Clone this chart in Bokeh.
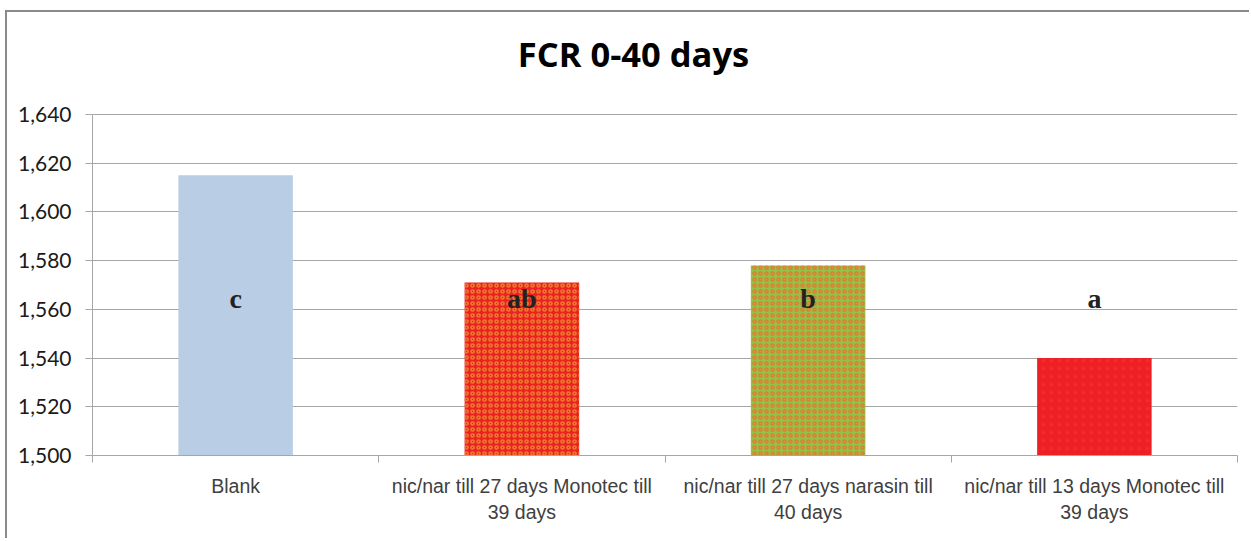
from bokeh.plotting import figure
from bokeh.models import FixedTicker, NumeralTickFormatter, Range1d, ColumnDataSource
from bokeh.core.properties import value
from bokeh.embed import file_html
from bokeh.resources import INLINE

# ---- data ----
categories = [
    "Blank",
    "nic/nar till 27 days Monotec till\n39 days",
    "nic/nar till 27 days narasin till\n40 days",
    "nic/nar till 13 days Monotec till\n39 days",
]
fcr = [1615, 1571, 1578, 1540]
letters = ["c", "ab", "b", "a"]
y_ticks = [1500, 1520, 1540, 1560, 1580, 1600, 1620, 1640]
title_text = "FCR 0-40 days"

# ---- styles / positions ----
fill_colors = ["#b9cde5", "#ee1f25", "#8dc34b", "#ee1f25"]
hatch_patterns = ["blank", "ring", "ring", "dot"]
hatch_colors = ["#b9cde5", "#e97a2b", "#e97a2b", "#f0a030"]
hatch_scales = [6, 6, 6, 8]
hatch_weights = [1, 1.7, 1.5, 1]
hatch_alphas = [0, 1, 1, 0.12]
LETTER_Y = 1564.4
Y_TOP = 1680.2          # headroom above the axis for the title
TITLE_X = 1.89
TITLE_Y = 1665.0
GRID = "#a6a6a6"

xs = [i + 0.5 for i in range(len(categories))]
src = ColumnDataSource(dict(
    x=xs, top=fcr, fill=fill_colors, hp=hatch_patterns, hc=hatch_colors,
    hs=hatch_scales, hw=hatch_weights, ha=hatch_alphas,
))
lsrc = ColumnDataSource(dict(x=xs, y=[LETTER_Y] * len(letters), t=letters))

p = figure(
    width=1244, height=528,
    x_range=Range1d(0, len(categories)), y_range=Range1d(y_ticks[0], Y_TOP),
    output_backend="svg", toolbar_location=None,
    min_border_left=85, min_border_right=14, min_border_top=4, min_border_bottom=85,
)
p.styles = {
    "position": "absolute",
    "left": "5px",
    "top": "10px",
    "border-top": "2px solid #8a8a8a",
    "border-left": "2px solid #8a8a8a",
}
p.outline_line_color = None
p.background_fill_color = "white"
p.border_fill_color = "white"

p.text(x=[TITLE_X], y=[TITLE_Y], text=[title_text],
       text_font=value("Open Sans"), text_font_style="bold",
       text_font_size="34.5px", text_color="#000000",
       text_align="center", text_baseline="middle")

p.vbar(x="x", top="top", bottom=y_ticks[0], width=0.4, source=src,
       fill_color="fill", line_color=None,
       hatch_pattern="hp", hatch_color="hc", hatch_scale="hs",
       hatch_weight="hw", hatch_alpha="ha")

p.text(x="x", y="y", text="t", source=lsrc,
       text_font=value("Liberation Serif"), text_font_style="bold",
       text_font_size="28px", text_color="#222222",
       text_align="center", text_baseline="middle")

# y axis
yax = p.yaxis[0]
yax.bounds = (y_ticks[0], y_ticks[-1])
yax.ticker = FixedTicker(ticks=y_ticks)
yax.formatter = NumeralTickFormatter(format="0,0")
yax.axis_line_color = GRID
yax.major_tick_line_color = GRID
yax.major_tick_out = 7
yax.major_tick_in = 0
yax.minor_tick_line_color = None
yax.major_label_text_font = "Lato"
yax.major_label_text_font_size = "21px"
yax.major_label_text_color = "#1a1a1a"
yax.major_label_standoff = 14

# x axis
xax = p.xaxis[0]
xax.ticker = FixedTicker(ticks=xs, minor_ticks=list(range(len(categories) + 1)))
xax.major_label_overrides = {x: c for x, c in zip(xs, categories)}
xax.axis_line_color = GRID
xax.major_tick_line_color = None
xax.major_tick_out = 7
xax.major_tick_in = 0
xax.minor_tick_line_color = GRID
xax.minor_tick_out = 7
xax.minor_tick_in = 0
xax.major_label_text_font = "Liberation Sans"
xax.major_label_text_font_size = "19.5px"
xax.major_label_text_color = "#404040"
xax.major_label_standoff = 12
xax.major_label_orientation = "horizontal"

p.xgrid.grid_line_color = None
p.ygrid.ticker = FixedTicker(ticks=y_ticks)
p.ygrid.grid_line_color = GRID
p.ygrid.grid_line_width = 1

open("out.html", "w").write(file_html(p, INLINE))
